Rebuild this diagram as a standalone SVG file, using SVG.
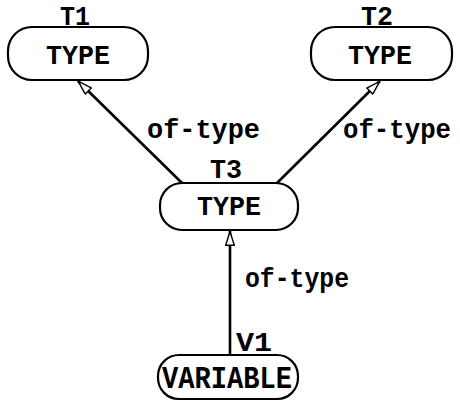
<svg xmlns="http://www.w3.org/2000/svg" width="460" height="403" viewBox="0 0 460 403">
<defs>
<style>
.box{fill:#fff;stroke:#000;stroke-width:2.2}
.t{font-family:"Liberation Mono","DejaVu Sans Mono",monospace;font-weight:bold;font-size:28px;fill:#000;text-anchor:middle}
.lbl{font-family:"Liberation Mono","DejaVu Sans Mono",monospace;font-weight:bold;font-size:28px;fill:#000}
.edge{stroke:#000;stroke-width:2.6;fill:none;marker-end:url(#ah)}
</style>
<marker id="ah" viewBox="0 0 15 10" refX="15" refY="5" markerWidth="15" markerHeight="10" markerUnits="userSpaceOnUse" orient="auto">
<path d="M0.7,0.7 L14.5,5 L0.7,9.3 Z" fill="#fff" stroke="#000" stroke-width="1.4"/>
</marker>
</defs>
<rect width="460" height="403" fill="#fff"/>
<g id="connectors">
<line class="edge" x1="182" y1="183" x2="78" y2="81"/>
<line class="edge" x1="277" y1="183" x2="380" y2="81"/>
<line class="edge" x1="230" y1="355" x2="230" y2="231"/>
<text class="lbl" x="147" y="138" textLength="113" lengthAdjust="spacingAndGlyphs">of-type</text>
<text class="lbl" x="343" y="138" textLength="108" lengthAdjust="spacingAndGlyphs">of-type</text>
<text class="lbl" x="245" y="287" textLength="104" lengthAdjust="spacingAndGlyphs">of-type</text>
</g>
<g id="T1">
<rect class="box" x="8" y="27" width="140" height="53" rx="24" ry="24"/>
<text class="t" x="75" y="25" textLength="30" lengthAdjust="spacingAndGlyphs">T1</text>
<text class="t" x="78" y="64" textLength="64" lengthAdjust="spacingAndGlyphs">TYPE</text>
</g>
<g id="T2">
<rect class="box" x="311" y="27" width="141" height="53" rx="24" ry="24"/>
<text class="t" x="377" y="25" textLength="32" lengthAdjust="spacingAndGlyphs">T2</text>
<text class="t" x="380" y="64" textLength="64" lengthAdjust="spacingAndGlyphs">TYPE</text>
</g>
<g id="T3">
<rect class="box" x="160" y="183" width="138" height="47" rx="22" ry="22"/>
<text class="t" x="226" y="178" textLength="32" lengthAdjust="spacingAndGlyphs">T3</text>
<text class="t" x="229" y="215" textLength="64" lengthAdjust="spacingAndGlyphs">TYPE</text>
</g>
<g id="V1">
<rect class="box" x="158" y="355" width="140" height="44" rx="21" ry="21"/>
<text class="t" x="254" y="351" textLength="36" lengthAdjust="spacingAndGlyphs">V1</text>
<text class="t" x="227" y="388" textLength="130" lengthAdjust="spacingAndGlyphs" style="font-size:31px">VARIABLE</text>
</g>
</svg>
